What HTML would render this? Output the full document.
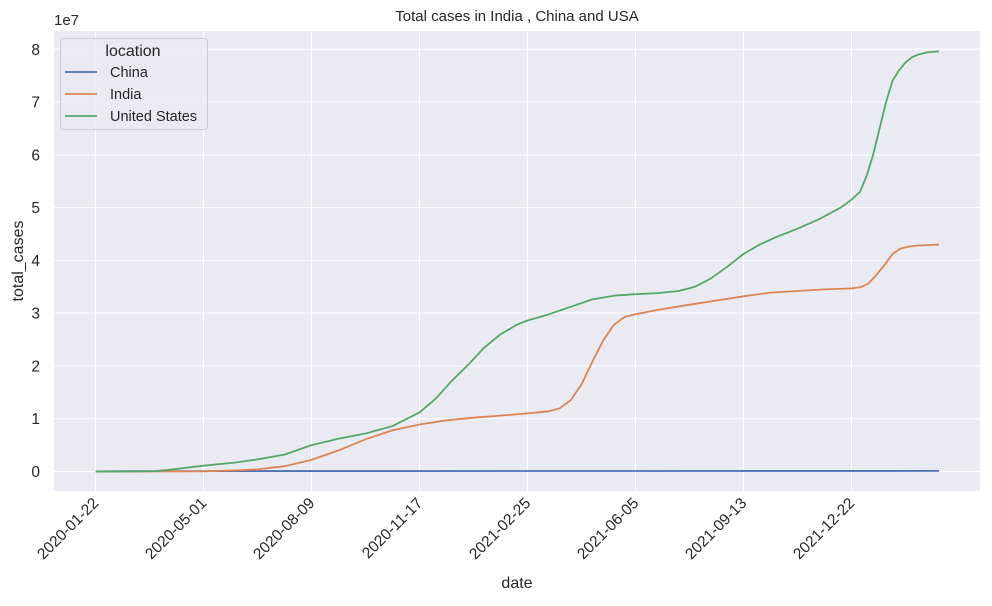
<!DOCTYPE html>
<html><head><meta charset="utf-8"><style>
body{margin:0;background:#fff;font-family:"Liberation Sans","DejaVu Sans",sans-serif;}
svg text{fill:#262626;font-family:"Liberation Sans","DejaVu Sans",sans-serif;}
</style></head><body>
<svg id="chart" width="992" height="601">
<rect x="54" y="31" width="926" height="460" fill="#eaeaf2"/>
<g id="grid"></g><g id="series"></g><g id="axes"></g>
<text x="517" y="21" text-anchor="middle" font-size="15">Total cases in India , China and USA</text>
<text x="54" y="25" font-size="15">1e7</text>
<text x="517" y="588" text-anchor="middle" font-size="16">date</text>
<text transform="translate(23,261) rotate(-90)" text-anchor="middle" font-size="16">total_cases</text>
<g>
<rect x="60.5" y="38.5" width="147" height="91" rx="3" fill="#eaeaf2" fill-opacity="0.8" stroke="#cccccc"/>
<text x="133" y="56" text-anchor="middle" font-size="16">location</text>
<line x1="65" y1="72" x2="97" y2="72" stroke="#4c72b0" stroke-width="1.7"/><text x="110" y="77" font-size="14.5">China</text>
<line x1="65" y1="94" x2="97" y2="94" stroke="#dd8452" stroke-width="1.7"/><text x="110" y="99" font-size="14.5">India</text>
<line x1="65" y1="116" x2="97" y2="116" stroke="#55a868" stroke-width="1.7"/><text x="110" y="121" font-size="14.5">United States</text>
</g>
</svg>
<script>
const xTickLabels=["2020-01-22","2020-05-01","2020-08-09","2020-11-17","2021-02-25","2021-06-05","2021-09-13","2021-12-22"];
const xTickDays=[0,100,200,300,400,500,600,700];
const yTicks=[0,1,2,3,4,5,6,7,8];
const usDays=[0,40,55,65,80,100,130,150,175,200,225,250,275,300,315,330,345,360,375,390,400,420,440,460,480,500,520,540,555,570,585,600,615,630,650,670,690,700,708,714,720,726,732,738,744,750,756,762,770,781];
const usVals=[0,0.002,0.008,0.025,0.06,0.11,0.17,0.23,0.32,0.5,0.62,0.72,0.86,1.12,1.38,1.72,2.02,2.35,2.6,2.78,2.86,2.98,3.12,3.26,3.33,3.36,3.38,3.42,3.5,3.66,3.88,4.12,4.3,4.44,4.6,4.78,5.0,5.15,5.3,5.6,6.0,6.5,7.0,7.4,7.6,7.75,7.85,7.9,7.94,7.96];
const inDays=[0,60,100,130,150,175,200,225,250,275,300,325,350,375,400,420,430,440,450,460,470,480,490,500,520,550,575,600,625,650,675,700,708,715,722,730,738,745,752,760,781];
const inVals=[0,0,0.003,0.02,0.04,0.1,0.22,0.4,0.61,0.78,0.89,0.97,1.02,1.06,1.1,1.14,1.2,1.35,1.65,2.08,2.48,2.78,2.93,2.98,3.06,3.16,3.24,3.32,3.39,3.42,3.45,3.47,3.49,3.55,3.7,3.9,4.12,4.22,4.26,4.28,4.3];
const cnDays=[0,30,100,781];
const cnVals=[0.001,0.008,0.0084,0.012];
const X=d=>95.5+d*1.08, Y=v=>471.5-v*52.78;
const NS="http://www.w3.org/2000/svg";
const grid=document.getElementById('grid'),axes=document.getElementById('axes'),ser=document.getElementById('series');
function mk(tag,at,p){const e=document.createElementNS(NS,tag);for(const k in at)e.setAttribute(k,at[k]);p.appendChild(e);return e;}
xTickDays.forEach((d,i)=>{
 const l=mk('line',{x1:X(d),x2:X(d),y1:31,y2:491,stroke:'#fff','stroke-width':1},grid);
 
 
 const t=mk('text',{transform:`translate(${X(d)+4},${504}) rotate(-45)`,'text-anchor':'end','font-size':15.5},axes);
 t.textContent=xTickLabels[i];
 
 
});
yTicks.forEach(v=>{
 const l=mk('line',{x1:54,x2:980,y1:Y(v),y2:Y(v),stroke:'#fff','stroke-width':1},grid);
 
 
 const t=mk('text',{x:40,y:Y(v)+5.5,'text-anchor':'end','font-size':15.5},axes);
 t.textContent=v;
 
 
});
function line(days,vals,color,name){
 const p=mk('path',{d:days.map((d,i)=>(i?'L':'M')+X(d).toFixed(1)+','+Y(vals[i]).toFixed(1)).join(''),fill:'none',stroke:color,'stroke-width':1.8,'stroke-linejoin':'round'},ser);
 
 
}
line(cnDays,cnVals,'#4c72b0','china-line');
line(inDays,inVals,'#dd8452','india-line');
line(usDays,usVals,'#55a868','united-states-line');
</script>
</body></html>
